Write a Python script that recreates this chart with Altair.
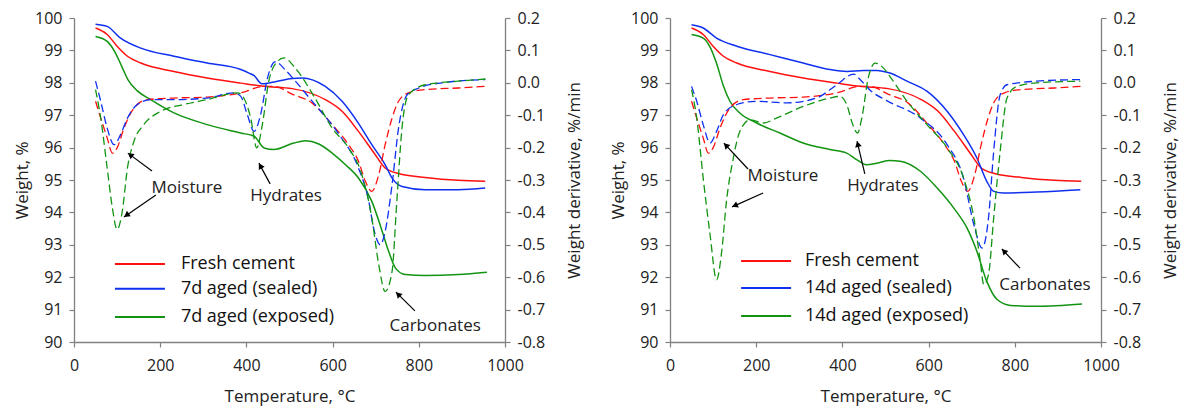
import math
import altair as alt
import pandas as pd

# ---------------- data ----------------
# Fresh cement (same in both panels)
T_FRESH_W = [50, 77, 100, 124, 155, 232, 309, 387, 441, 506, 583, 622, 660, 699, 722, 753, 815, 892, 954]
W_FRESH = [99.69, 99.49, 99.13, 98.82, 98.61, 98.35, 98.15, 97.99, 97.89, 97.82, 97.48, 97.12, 96.50,
           95.78, 95.37, 95.20, 95.08, 94.99, 94.96]
T_FRESH_D = [50, 62, 77, 89, 100, 116, 139, 170, 232, 309, 387, 441, 464, 506, 552, 599, 637, 660, 676,
             691, 707, 722, 738, 753, 776, 815, 892, 954]
D_FRESH = [-0.057, -0.109, -0.170, -0.217, -0.201, -0.140, -0.078, -0.052, -0.047, -0.044, -0.031, -0.011,
           -0.011, -0.035, -0.062, -0.129, -0.191, -0.242, -0.304, -0.335, -0.284, -0.191, -0.109, -0.057,
           -0.031, -0.021, -0.016, -0.011]

# 7d aged (sealed)
T_S7_W = [50, 77, 108, 155, 232, 309, 387, 406, 418, 436, 472, 506, 529, 583, 622, 660, 691, 722, 738,
          761, 815, 892, 954]
W_S7 = [99.81, 99.74, 99.38, 99.07, 98.82, 98.61, 98.41, 98.30, 98.22, 97.97, 98.05, 98.13, 98.15, 97.89,
        97.43, 96.75, 96.09, 95.47, 95.06, 94.80, 94.70, 94.70, 94.75]
T_S7_D = [50, 62, 77, 93, 108, 124, 147, 178, 232, 309, 371, 387, 402, 418, 433, 449, 467, 490, 513, 552,
          614, 660, 684, 695, 711, 722, 738, 753, 773, 800, 854, 954]
D_S7 = [0.005, -0.057, -0.140, -0.191, -0.160, -0.109, -0.067, -0.052, -0.052, -0.047, -0.031, -0.042,
        -0.098, -0.150, -0.098, 0.015, 0.065, 0.040, 0.006, -0.056, -0.158, -0.263, -0.366, -0.448, -0.500,
        -0.458, -0.314, -0.140, -0.037, -0.016, 0.000, 0.010]

# 7d aged (exposed)
T_E7_W = [50, 77, 95, 111, 125, 147, 178, 232, 309, 387, 418, 441, 464, 510, 537, 568, 599, 630, 660, 691,
          715, 730, 746, 769, 815, 892, 958]
W_E7 = [99.43, 99.28, 98.95, 98.50, 98.10, 97.75, 97.48, 97.07, 96.71, 96.45, 96.35, 95.99, 95.94, 96.14,
        96.21, 96.11, 95.83, 95.47, 95.06, 94.34, 93.42, 92.80, 92.28, 92.08, 92.05, 92.08, 92.15]
T_E7_D = [50, 62, 77, 89, 100, 112, 124, 139, 162, 201, 255, 309, 379, 394, 410, 424, 437, 452, 472, 487,
          513, 559, 599, 637, 668, 691, 707, 722, 738, 749, 761, 776, 815, 892, 958]
D_E7 = [-0.021, -0.109, -0.263, -0.386, -0.453, -0.397, -0.263, -0.181, -0.129, -0.088, -0.067, -0.052,
        -0.031, -0.047, -0.109, -0.201, -0.129, 0.005, 0.066, 0.077, 0.046, -0.047, -0.140, -0.201, -0.284,
        -0.417, -0.561, -0.644, -0.582, -0.366, -0.140, -0.037, -0.006, 0.005, 0.012]

# 14d aged (sealed)
T_S14_W = [50, 77, 108, 155, 232, 309, 371, 410, 449, 480, 510, 550, 596, 643, 681, 712, 735, 751, 774,
           851, 952]
W_S14 = [99.79, 99.69, 99.38, 99.13, 98.87, 98.61, 98.41, 98.35, 98.38, 98.38, 98.30, 98.05, 97.74, 97.12,
         96.40, 95.68, 94.96, 94.65, 94.60, 94.63, 94.70]
T_S14_D = [50, 62, 77, 93, 108, 124, 155, 201, 271, 340, 387, 426, 441, 466, 503, 581, 643, 681, 705, 724,
           739, 751, 766, 782, 851, 952]
D_S14 = [-0.011, -0.057, -0.129, -0.186, -0.150, -0.098, -0.067, -0.057, -0.062, -0.047, -0.006, 0.027,
         0.010, -0.025, -0.055, -0.109, -0.191, -0.294, -0.438, -0.510, -0.417, -0.212, -0.037, -0.006,
         0.005, 0.010]

# 14d aged (exposed)
T_E14_W = [50, 77, 93, 108, 124, 139, 162, 201, 255, 309, 371, 410, 433, 456, 480, 510, 534, 581, 620, 658,
           689, 712, 735, 759, 790, 851, 956]
W_E14 = [99.49, 99.38, 99.10, 98.60, 97.90, 97.43, 97.07, 96.76, 96.45, 96.14, 95.94, 95.83, 95.63, 95.47,
         95.52, 95.60, 95.58, 95.27, 94.75, 94.14, 93.52, 92.80, 91.87, 91.31, 91.13, 91.10, 91.17]
T_E14_D = [50, 62, 77, 93, 108, 120, 131, 147, 162, 186, 217, 247, 309, 371, 394, 410, 424, 435, 445, 460,
           476, 495, 510, 550, 596, 643, 681, 705, 720, 728, 739, 751, 766, 782, 805, 851, 952]
D_E14 = [-0.021, -0.109, -0.294, -0.469, -0.608, -0.520, -0.366, -0.232, -0.150, -0.114, -0.124, -0.109,
         -0.073, -0.047, -0.042, -0.067, -0.129, -0.155, -0.109, 0.015, 0.061, 0.046, 0.020, -0.057, -0.129,
         -0.201, -0.294, -0.417, -0.551, -0.623, -0.592, -0.417, -0.212, -0.047, -0.011, 0.000, 0.005]

NAMES_7 = ["Fresh cement", "7d aged (sealed)", "7d aged (exposed)"]
NAMES_14 = ["Fresh cement", "14d aged (sealed)", "14d aged (exposed)"]

X_TICKS = [0, 200, 400, 600, 800, 1000]
W_TICKS = [90, 91, 92, 93, 94, 95, 96, 97, 98, 99, 100]
D_TICKS = [-0.8, -0.7, -0.6, -0.5, -0.4, -0.3, -0.2, -0.1, 0.0, 0.1, 0.2]

# annotations: label, text (T, weight), arrows [(T tail, w tail, T head, w head)]
ANN_7 = [
    ("Moisture", 262, 94.75, [(181, 95.28, 125, 95.83), (190, 94.54, 116, 93.86)]),
    ("Hydrates", 492, 94.50, [(455, 94.88, 429, 95.52)]),
    ("Carbonates", 838, 90.49, [(791, 90.96, 747, 91.54)]),
]
ANN_14 = [
    ("Moisture", 262, 95.12, [(181, 95.34, 125, 96.14), (216, 94.60, 144, 94.17)]),
    ("Hydrates", 494, 94.81, [(452, 95.19, 434, 96.20)]),
    ("Carbonates", 870, 91.76, [(812, 92.28, 770, 92.87)]),
]
# legend placement (T start, T end, text T, row weights)
LEG_7 = (95, 211, 248, [92.41, 91.64, 90.77])
LEG_14 = (165, 281, 313, [92.50, 91.67, 90.80])

COLORS = ["#FF1010", "#1030F0", "#129412"]
FONT = "Open Sans"
PW, PH = 431, 324
PX_PER_T = PW / 1000.0
PX_PER_W = PH / 10.0


def long_df(parts, names):
    rows = []
    for (ts, vs), name in zip(parts, names):
        for t, v in zip(ts, vs):
            rows.append({"T": t, "value": v, "series": name})
    return pd.DataFrame(rows)


def panel(weights, derivs, names, ann, leg):
    xscale = alt.Scale(domain=[0, 1000], nice=False, padding=0)
    xaxis = alt.Axis(values=X_TICKS, format="d", title="Temperature, °C", labelPadding=10,
                     titlePadding=15, labelFlush=False, labelOverlap=False)
    wscale = alt.Scale(domain=[90, 100], nice=False, zero=False, padding=0)
    cscale = alt.Scale(domain=names, range=COLORS)

    def X(f):
        return alt.X(f, type="quantitative", scale=xscale, axis=xaxis)

    def Yplain(f):
        return alt.Y(f, type="quantitative", scale=wscale, axis=None)

    wdf = long_df(weights, names)
    ddf = long_df(derivs, names)

    wl = alt.Chart(wdf).mark_line(interpolate="monotone").encode(
        x=X("T"),
        y=alt.Y("value:Q", scale=wscale,
                axis=alt.Axis(values=W_TICKS, title="Weight, %", orient="left", titlePadding=3,
                              labelPadding=7, labelFlush=False, labelOverlap=False)),
        color=alt.Color("series:N", scale=cscale, legend=None),
        strokeWidth=alt.StrokeWidth("series:N", scale=alt.Scale(domain=names, range=[1.5, 1.5, 3.0]),
                                    legend=None),
        detail="series:N",
    )
    dl = alt.Chart(ddf).mark_line(interpolate="monotone", strokeDash=[8, 4], strokeWidth=1.3).encode(
        x=X("T"),
        y=alt.Y("value:Q", scale=alt.Scale(domain=[-0.8, 0.2], nice=False, zero=False, padding=0),
                axis=alt.Axis(values=D_TICKS, title="Weight derivative, %/min", orient="right",
                              titleAngle=270, titleBaseline="top", titlePadding=22, labelPadding=7,
                              labelFlush=False, labelOverlap=False,
                              labelExpr="(datum.value < -0.001 ? '-' : '') + format(abs(datum.value), '.1f')")),
        color=alt.Color("series:N", scale=cscale, legend=None),
        detail="series:N",
    )

    tdf = pd.DataFrame([{"label": a[0], "T": a[1], "w": a[2]} for a in ann])
    txt = alt.Chart(tdf).mark_text(font=FONT, fontSize=17, color="#222222").encode(
        x=X("T"), y=Yplain("w"), text="label:N")

    arr_rows = []
    head_rows = []
    for a in ann:
        for (t1, w1, t2, w2) in a[3]:
            arr_rows.append({"T1": t1, "w1": w1, "T2": t2, "w2": w2})
            dx = (t2 - t1) * PX_PER_T
            dy = -(w2 - w1) * PX_PER_W
            ln = math.hypot(dx, dy)
            ang = math.degrees(math.atan2(dx, -dy)) % 360
            back = 3.0
            hx = t2 - (dx / ln) * back / PX_PER_T
            hw = w2 + (dy / ln) * back / PX_PER_W
            head_rows.append({"T": hx, "w": hw, "ang": ang})
    adf = pd.DataFrame(arr_rows)
    hdf = pd.DataFrame(head_rows)
    arrows = alt.Chart(adf).mark_rule(color="black", strokeWidth=1.2).encode(
        x=X("T1"), x2="T2", y=Yplain("w1"), y2="w2")
    heads = alt.Chart(hdf).mark_point(shape="triangle-up", filled=True, size=45, color="black",
                                      opacity=1).encode(
        x=X("T"), y=Yplain("w"), angle=alt.Angle("ang:Q", scale=None))

    t0, t1, tt, rows = leg
    ldf = pd.DataFrame([{"series": n, "T1": t0, "T2": t1, "Tt": tt, "w": r} for n, r in zip(names, rows)])
    lrule = alt.Chart(ldf).mark_rule(strokeWidth=2).encode(
        x=X("T1"), x2="T2", y=Yplain("w"),
        color=alt.Color("series:N", scale=cscale, legend=None))
    ltext = alt.Chart(ldf).mark_text(font=FONT, fontSize=18, align="left", baseline="middle",
                                     color="#111111").encode(
        x=X("Tt"), y=Yplain("w"), text="series:N")

    return alt.layer(wl, dl, txt, arrows, heads, lrule, ltext).resolve_scale(
        y="independent").properties(width=PW, height=PH)


left = panel([(T_FRESH_W, W_FRESH), (T_S7_W, W_S7), (T_E7_W, W_E7)],
             [(T_FRESH_D, D_FRESH), (T_S7_D, D_S7), (T_E7_D, D_E7)], NAMES_7, ANN_7, LEG_7)
right = panel([(T_FRESH_W, W_FRESH), (T_S14_W, W_S14), (T_E14_W, W_E14)],
              [(T_FRESH_D, D_FRESH), (T_S14_D, D_S14), (T_E14_D, D_E14)], NAMES_14, ANN_14, LEG_14)

chart = alt.hconcat(left, right, spacing=26).resolve_scale(
    color="independent", strokeWidth="independent"
).properties(
    padding={"left": 5, "top": 2, "right": 3, "bottom": 4}
).configure_view(stroke=None).configure_axis(
    labelFont=FONT, titleFont=FONT, labelFontSize=16, titleFontSize=17, titleFontWeight="normal",
    labelColor="#222222", titleColor="#222222", domainColor="#808080", tickColor="#808080",
    domainWidth=1.3, tickWidth=1.2, tickSize=5, grid=False
)

chart.save("out.html", embed_options={"renderer": "svg", "actions": False})
